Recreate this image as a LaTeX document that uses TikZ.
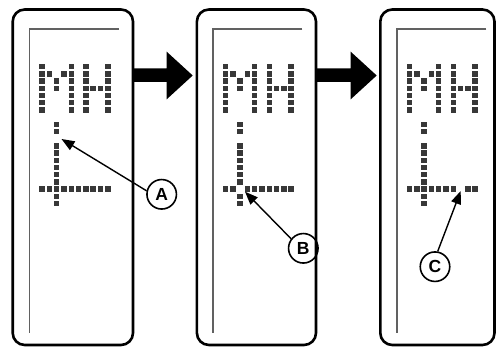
\documentclass[tikz,border=0pt]{standalone}
\usepackage{fontspec}
\setmainfont{Liberation Sans}
\usetikzlibrary{arrows.meta}
\newcommand\dotcell[3]{\fill[lcdot] ({#1+39.3+7.3*#2},{64+7.2*#3}) rectangle ++(5.5,5.5);}
\begin{document}
\begin{tikzpicture}[x=1pt,y=-1pt,
  frame/.style={line width=2.6pt, rounded corners=12pt},
  innerline/.style={line width=1.6pt, draw=black!62},
  lcdot/.style={fill=black!78},
  bigarrow/.style={fill=black},
  callout/.style={circle, draw, line width=1.6pt, minimum size=29.5pt, inner sep=0pt,
    font=\bfseries\fontsize{17.5}{17.5}\selectfont},
  leader/.style={line width=1.4pt, -{Triangle[length=13pt,width=10pt]}}]
\useasboundingbox (0,0) rectangle (496,347);
% frames
\draw[frame] (12.7,9.5) rectangle (133,345);
\draw[frame] (196.9,9.5) rectangle (316,345);
\draw[frame] (380.3,9.5) rectangle (494.5,345);
% inner lines
\foreach \dx in {0,183.4,367.4}{
  \draw[innerline] ({\dx+119},29.3) -- ({\dx+29.3},29.3) -- ({\dx+29.3},333);
}
% big arrows
\foreach \dx in {0,184}{
  \fill[bigarrow] ({\dx+133},68.5) -- ({\dx+166.7},68.5) -- ({\dx+166.7},51.7) -- ({\dx+192.7},75.5)
    -- ({\dx+166.7},99.3) -- ({\dx+166.7},82) -- ({\dx+133},82) -- cycle;
}
% dot matrix
\foreach \dx/\gap in {0/-1, 183.4/2, 367.4/7}{
  \foreach \r in {0,...,6}{\dotcell{\dx}{0}{\r}\dotcell{\dx}{4}{\r}\dotcell{\dx}{6}{\r}\dotcell{\dx}{9}{\r}}
  \dotcell{\dx}{1}{1}\dotcell{\dx}{3}{1}\dotcell{\dx}{2}{2}\dotcell{\dx}{2}{3}\dotcell{\dx}{7}{3}\dotcell{\dx}{8}{3}
  \foreach \r in {8,9,11,12,13,14,15,16,18,19}{\dotcell{\dx}{2}{\r}}
  \foreach \c in {0,...,9}{\ifnum\c=\gap\relax\else\dotcell{\dx}{\c}{17}\fi}
}
% callouts
\node[callout] (A) at (161.7,194.3) {A};
\node[callout] (B) at (303.3,248.3) {B};
\node[callout] (C) at (435,266.7) {C};
\coordinate (tA) at (61.5,139);
\coordinate (tB) at (245,191.7);
\coordinate (tC) at (460.7,191);
\draw[leader] (A.167) -- (tA);
\draw[leader] (B.142) -- (tB);
\draw[leader] (C.80) -- (tC);
\end{tikzpicture}
\end{document}
